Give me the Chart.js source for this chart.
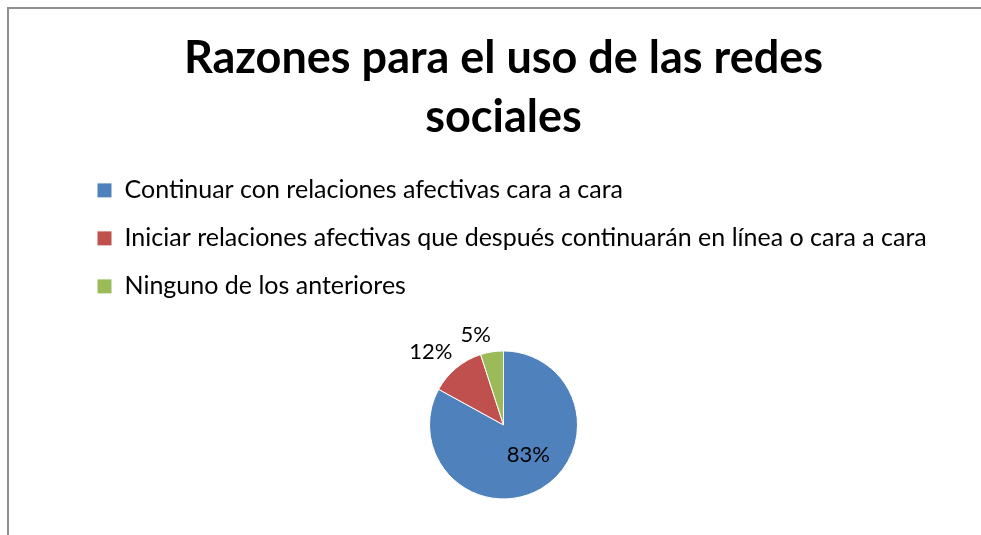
<!DOCTYPE html>
<html>
<head>
<meta charset="utf-8">
<script src="https://cdn.jsdelivr.net/npm/chart.js@4.4.1/dist/chart.umd.min.js"></script>
<style>
  html, body { margin: 0; padding: 0; background: #fff; overflow: hidden; }
  .frame { position: absolute; left: 7px; top: 7px; width: 1000px; height: 540px;
           border-left: 2px solid #8f8f8f; border-top: 2px solid #8f8f8f; }
  #wrap { position: absolute; left: 9px; top: 9px; width: 972px; height: 533px; }
</style>
</head>
<body>
<div class="frame"></div>
<div id="wrap"><canvas id="chart"></canvas></div>
<script>
// Razones para el uso de las redes sociales
const titleLines = ['Razones para el uso de las redes', 'sociales'];
const categories = [
    'Continuar con relaciones afectivas cara a cara',
    'Iniciar relaciones afectivas que después continuarán en línea o cara a cara',
    'Ninguno de los anteriores'
];
const percentages = [83, 12, 5];
const sliceColors = ['#4F81BD', '#C0504D', '#9BBB59'];

const FONT = 'Lato, "Open Sans", sans-serif';

// labels on the slices: big one inside, small ones outside
const pieLabels = {
    id: 'pieLabels',
    afterDatasetsDraw(chart) {
        const ctx = chart.ctx;
        const meta = chart.getDatasetMeta(0);
        ctx.save();
        ctx.font = '22px ' + FONT;
        ctx.fillStyle = '#000';
        meta.data.forEach((arc, i) => {
            const text = percentages[i] + '%';
            const p = arc.getProps(['x', 'y', 'startAngle', 'endAngle', 'outerRadius'], true);
            if (percentages[i] > 50) {
                const c = arc.tooltipPosition(true);
                ctx.textAlign = 'center';
                ctx.textBaseline = 'middle';
                ctx.fillText(text, c.x + 6, c.y - 2);
            } else {
                const mid = (p.startAngle + p.endAngle) / 2;
                const cos = Math.cos(mid), sin = Math.sin(mid);
                const r = p.outerRadius + 6;
                ctx.textAlign = cos < 0 ? 'right' : 'left';
                ctx.textBaseline = sin < 0 ? 'bottom' : 'top';
                ctx.fillText(text, p.x + cos * r, p.y + sin * r);
            }
        });
        ctx.restore();
    }
};

new Chart(document.getElementById('chart'), {
    type: 'pie',
    data: {
        labels: categories,
        datasets: [{
            data: percentages,
            backgroundColor: sliceColors,
            borderColor: '#fff',
            borderWidth: 1
        }]
    },
    options: {
        responsive: true,
        maintainAspectRatio: false,
        animation: false,
        radius: 74,
        layout: { padding: { left: 65, right: 48, top: 0, bottom: 1 } },
        plugins: {
            title: {
                display: true,
                text: titleLines,
                color: '#000',
                font: { family: FONT, size: 45, weight: 'bold', lineHeight: 1.31 },
                padding: { top: 20, bottom: 8 }
            },
            legend: {
                position: 'top',
                align: 'start',
                labels: {
                    color: '#000',
                    font: { family: FONT, size: 25 },
                    boxWidth: 15,
                    boxHeight: 15,
                    padding: 23
                }
            },
            tooltip: { enabled: false }
        }
    },
    plugins: [pieLabels]
});
</script>
</body>
</html>
